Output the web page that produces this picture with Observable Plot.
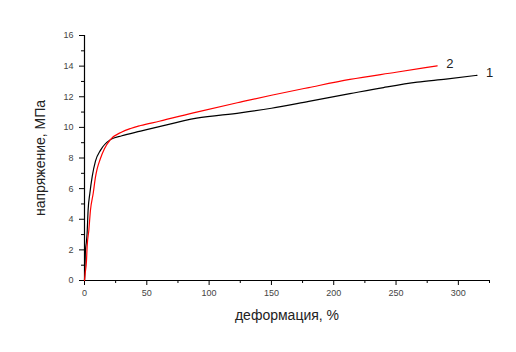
<!DOCTYPE html>
<html>
<head>
<meta charset="utf-8">
<script src="https://cdn.jsdelivr.net/npm/d3@7"></script>
<script src="https://cdn.jsdelivr.net/npm/@observablehq/plot@0.6"></script>
<style>
  html, body { margin: 0; padding: 0; background: #fff; }
  #chart svg { display: block; }
</style>
</head>
<body>
<div id="chart"></div>
<script>
// Curve 1 (black)
const strain1 = [0, 0.3, 0.8, 1.5, 2.1, 2.9, 4.3, 6.2, 8.8, 12.8, 20.8, 30, 45, 60, 90, 125, 150, 180, 213, 240, 267, 290, 315];
const stress1 = [0, 0.7, 2.0, 2.5, 3.1, 4.6, 5.7, 6.8, 7.8, 8.5, 9.2, 9.45, 9.75, 10.05, 10.6, 10.95, 11.25, 11.7, 12.2, 12.6, 12.95, 13.15, 13.4];
// Curve 2 (red)
const strain2 = [0, 0.5, 1.6, 2.1, 3.5, 4.8, 7, 8.8, 10.2, 12.5, 16, 20.8, 30, 37, 45, 60, 90, 125, 150, 180, 213, 250, 283];
const stress2 = [0, 0.45, 1.3, 2.2, 3.3, 4.6, 5.7, 6.75, 7.3, 7.9, 8.6, 9.2, 9.7, 9.93, 10.12, 10.4, 11.0, 11.65, 12.1, 12.6, 13.13, 13.6, 14.02];
const seriesNames = ["1", "2"];
const xTicks = [0, 50, 100, 150, 200, 250, 300];
const xMinor = [25, 75, 125, 175, 225, 275, 325];
const yTicks = [0, 2, 4, 6, 8, 10, 12, 14, 16];
const yMinor = [1, 3, 5, 7, 9, 11, 13, 15];
const xLabel = "деформация, %";
const yLabel = "напряжение, МПа";

const s1 = strain1.map((x, i) => ({x, y: stress1[i]}));
const s2 = strain2.map((x, i) => ({x, y: stress2[i]}));
const ends = [
  {x: strain1[strain1.length - 1], y: stress1[stress1.length - 1], t: seriesNames[0]},
  {x: strain2[strain2.length - 1], y: stress2[stress2.length - 1], t: seriesNames[1]}
];

const chart = Plot.plot({
  width: 516,
  height: 352,
  marginLeft: 84,
  marginRight: 27,
  marginTop: 35,
  marginBottom: 72,
  style: {fontFamily: "Liberation Sans, Arial, sans-serif", background: "#fff"},
  x: {domain: [0, 325]},
  y: {domain: [0, 16]},
  marks: [
    Plot.axisX({ticks: xTicks, tickSize: 5, tickPadding: 4, fontSize: 9, fill: "#444", stroke: "#000", label: null}),
    Plot.axisX({ticks: xMinor, tickSize: 3, text: null, label: null, stroke: "#000"}),
    Plot.axisY({ticks: yTicks, tickSize: 5, tickPadding: 6, fontSize: 9, fill: "#444", stroke: "#000", label: null}),
    Plot.axisY({ticks: yMinor, tickSize: 3, text: null, label: null, stroke: "#000"}),
    Plot.text([xLabel], {frameAnchor: "bottom", dy: 35, fontSize: 14, fill: "#222", lineAnchor: "middle"}),
    Plot.text([yLabel], {frameAnchor: "left", dx: -44, rotate: -90, fontSize: 14, fill: "#222", textAnchor: "middle", lineAnchor: "middle"}),
    Plot.ruleX([0], {stroke: "#000", strokeWidth: 1.2}),
    Plot.ruleY([0], {stroke: "#000", strokeWidth: 1.2}),
    Plot.line(s1, {x: "x", y: "y", stroke: "#000", strokeWidth: 1.2, curve: "monotone-x"}),
    Plot.line(s2, {x: "x", y: "y", stroke: "#ff0000", strokeWidth: 1.2, curve: "monotone-x"}),
    Plot.text(ends, {x: "x", y: "y", text: "t", dx: 9, dy: -2, fontSize: 13, fill: "#222", textAnchor: "start"})
  ]
});
document.getElementById("chart").appendChild(chart);
</script>
</body>
</html>
